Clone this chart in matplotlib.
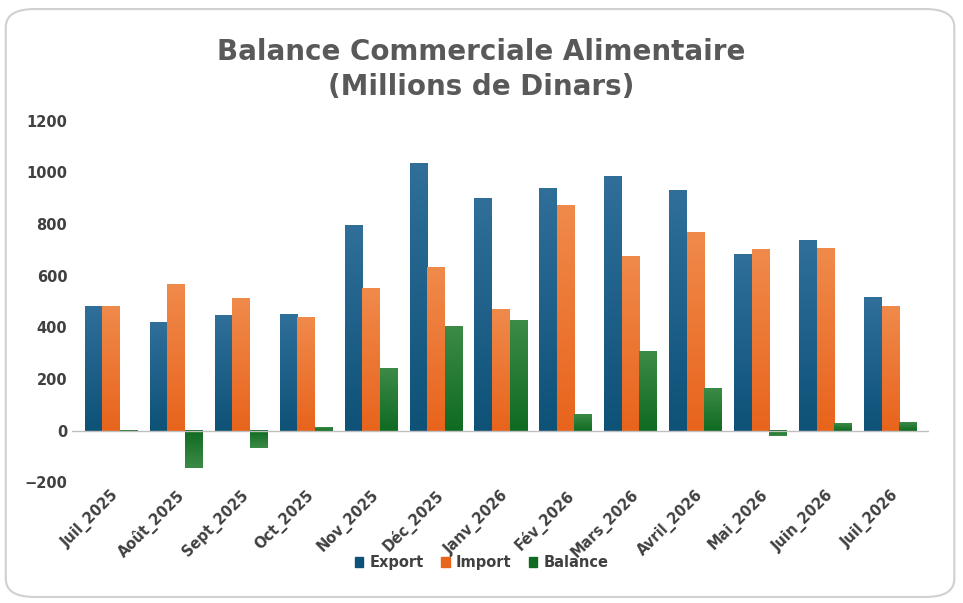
import numpy as np
import matplotlib.pyplot as plt
from matplotlib.patches import FancyBboxPatch
from matplotlib.colors import LinearSegmentedColormap

months = ['Juil_2025', 'Août_2025', 'Sept_2025', 'Oct_2025', 'Nov_2025', 'Déc_2025',
          'Janv_2026', 'Fév_2026', 'Mars_2026', 'Avril_2026', 'Mai_2026', 'Juin_2026', 'Juil_2026']
export = [482, 420, 447, 452, 795, 1037, 898, 937, 985, 932, 683, 737, 517]
imports = [482, 565, 513, 440, 553, 633, 472, 872, 676, 768, 703, 708, 483]
balance = [-2, -145, -66, 12, 242, 404, 426, 65, 309, 164, -20, 29, 34]

fig = plt.figure(figsize=(9.63, 6.03), dpi=100)
fig.patch.set_facecolor('white')
fig.patches.append(FancyBboxPatch((0.006, 0.01), 0.985, 0.975, boxstyle="round,pad=0,rounding_size=0.03",
                                  transform=fig.transFigure, facecolor='none', edgecolor='#d0d0d0',
                                  lw=1.5, zorder=-1))
ax = fig.add_axes([0.075, 0.2, 0.89, 0.6])
ax.set_facecolor('none')

x = np.arange(len(months))
w = 0.27
series = [(export, '#2f6f9a', '#0e5278', 'Export'),
          (imports, '#f08a4b', '#e8641c', 'Import'),
          (balance, '#3c8a46', '#0f6b22', 'Balance')]
for k, (vals, top, bot, name) in enumerate(series):
    cmap = LinearSegmentedColormap.from_list(name, [bot, top])
    bars = ax.bar(x + (k - 1) * w, vals, w, color=top, label=name)
    for b in bars:
        x0, y0, bw, bh = b.get_x(), b.get_y(), b.get_width(), b.get_height()
        grad = np.linspace(0, 1, 100).reshape(-1, 1)
        ax.imshow(grad, extent=[x0, x0 + bw, y0, y0 + bh], origin='lower', cmap=cmap,
                  aspect='auto', zorder=2)
        b.set_visible(False)
ax.set_xlim(-0.6, len(months) - 0.4)
ax.set_ylim(-200, 1200)
ax.set_yticks(range(-200, 1201, 200))
ax.set_xticks(x)
ax.set_xticklabels(months, rotation=45, ha='right', rotation_mode='anchor', fontweight='bold',
                   color='#404040', fontsize=10.5)
for lab in ax.get_yticklabels():
    lab.set_fontweight('bold')
    lab.set_color('#404040')
ax.tick_params(length=0, labelsize=10.5)
for s in ax.spines.values():
    s.set_visible(False)
ax.axhline(0, color='#bfbfbf', lw=1, zorder=3)
ax.set_aspect('auto')

handles = [plt.Rectangle((0, 0), 1, 1, color=c[2]) for c in series]
fig.legend(handles, [c[3] for c in series], loc='center', bbox_to_anchor=(0.5, 0.067), ncol=3,
           frameon=False, prop={'weight': 'bold', 'size': 10.5}, labelcolor='#404040',
           handlelength=0.6, handleheight=0.6, columnspacing=1.2, handletextpad=0.4)
fig.text(0.5, 0.885, 'Balance Commerciale Alimentaire\n(Millions de Dinars)', ha='center', va='center',
         fontsize=20, fontweight='bold', color='#595959', linespacing=1.3)
fig.savefig('out.png', dpi=100)
